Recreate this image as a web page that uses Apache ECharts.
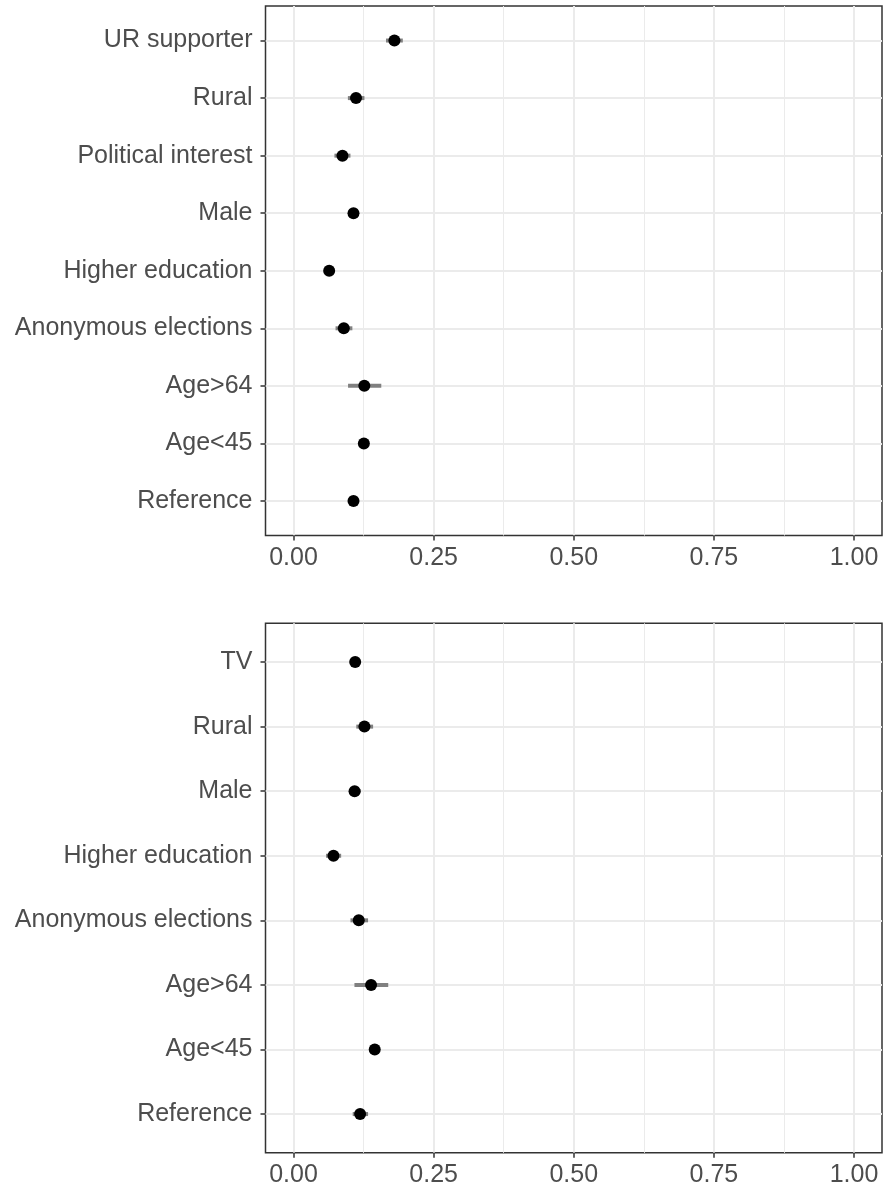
<!DOCTYPE html>
<html><head><meta charset="utf-8">
<script src="https://cdn.jsdelivr.net/npm/echarts@6/dist/echarts.min.js"></script>
<style>html,body{margin:0;padding:0;background:#fff}#c{width:883px;height:1189px}</style>
</head><body><div id="c"></div>
<script>
// Panel 1 (listed bottom to top)
const cats1 = ['Reference','Age<45','Age>64','Anonymous elections','Higher education','Male','Political interest','Rural','UR supporter'];
const est1 = [0.107, 0.1255, 0.1263, 0.0897, 0.0636, 0.107, 0.0873, 0.1115, 0.180];
const lo1  = [0.101, 0.119, 0.0973, 0.075, 0.058, 0.100, 0.073, 0.097, 0.165];
const hi1  = [0.113, 0.132, 0.1566, 0.105, 0.069, 0.114, 0.1016, 0.1265, 0.195];
// Panel 2 (listed bottom to top)
const cats2 = ['Reference','Age<45','Age>64','Anonymous elections','Higher education','Male','Rural','TV'];
const est2 = [0.1188, 0.1449, 0.1384, 0.1164, 0.0713, 0.109, 0.1265, 0.110];
const lo2  = [0.1056, 0.138, 0.1087, 0.1016, 0.058, 0.0986, 0.112, 0.104];
const hi2  = [0.133, 0.151, 0.169, 0.133, 0.085, 0.120, 0.142, 0.116];
// x axis ticks
const xTicks = [0, 0.25, 0.5, 0.75, 1];
const xMinor = [0.125, 0.375, 0.625, 0.875];

const FONT = 'Helvetica, "Liberation Sans", Arial, sans-serif';
const GRID = '#EBEBEB', INK = '#333333', LAB = '#4D4D4D';

function errRender(params, api) {
  const a = api.coord([api.value(0), api.value(2)]);
  const b = api.coord([api.value(1), api.value(2)]);
  return {type: 'line', shape: {x1: a[0], y1: a[1], x2: b[0], y2: b[1]},
          style: {stroke: '#808080', lineWidth: 4}};
}
function majorX(gi) {
  return {
    type: 'value', gridIndex: gi, min: -0.05, max: 1.05, position: 'bottom',
    axisLine: {show: false, onZero: false},
    axisTick: {show: true, length: 5, lineStyle: {color: INK, width: 1.5}, customValues: xTicks},
    axisLabel: {show: true, customValues: xTicks, formatter: v => v.toFixed(2),
                color: LAB, fontSize: 25, fontFamily: FONT, margin: 10},
    splitLine: {show: true, lineStyle: {color: GRID, width: 2}}
  };
}
function minorX(gi) {
  return {
    type: 'value', gridIndex: gi, min: -0.05, max: 1.05, position: 'top',
    axisLine: {show: false, onZero: false},
    axisTick: {show: false, customValues: xMinor},
    axisLabel: {show: false, customValues: xMinor},
    splitLine: {show: true, lineStyle: {color: GRID, width: 1}}
  };
}
function yAx(gi, cats) {
  const vals = cats.map((c, i) => i);
  return {
    type: 'value', gridIndex: gi, min: -0.6, max: cats.length - 1 + 0.6, position: 'left',
    axisLine: {show: false, onZero: false},
    axisTick: {show: true, length: 5, lineStyle: {color: INK, width: 1.5}, customValues: vals},
    axisLabel: {show: true, customValues: vals, formatter: v => cats[Math.round(v)],
                color: LAB, fontSize: 25, fontFamily: FONT, margin: 13},
    splitLine: {show: true, lineStyle: {color: GRID, width: 2}}
  };
}

const chart = echarts.init(document.getElementById('c'), null, {renderer: 'canvas'});
chart.setOption({
  animation: false,
  backgroundColor: '#ffffff',
  grid: [
    {left: 265.5, top: 6, width: 616.5, height: 529.5, show: true, borderColor: INK, borderWidth: 1.5, backgroundColor: 'transparent'},
    {left: 265.5, top: 623.3, width: 616.5, height: 529.5, show: true, borderColor: INK, borderWidth: 1.5, backgroundColor: 'transparent'}
  ],
  xAxis: [majorX(0), minorX(0), majorX(1), minorX(1)],
  yAxis: [yAx(0, cats1), yAx(1, cats2)],
  series: [
    {type: 'custom', xAxisIndex: 0, yAxisIndex: 0, renderItem: errRender,
     encode: {x: [0, 1], y: 2}, data: cats1.map((c, i) => [lo1[i], hi1[i], i]), z: 3},
    {type: 'scatter', xAxisIndex: 0, yAxisIndex: 0, symbol: 'circle', symbolSize: 12,
     itemStyle: {color: '#000000', opacity: 1}, data: cats1.map((c, i) => [est1[i], i]), z: 4},
    {type: 'custom', xAxisIndex: 2, yAxisIndex: 1, renderItem: errRender,
     encode: {x: [0, 1], y: 2}, data: cats2.map((c, i) => [lo2[i], hi2[i], i]), z: 3},
    {type: 'scatter', xAxisIndex: 2, yAxisIndex: 1, symbol: 'circle', symbolSize: 12,
     itemStyle: {color: '#000000', opacity: 1}, data: cats2.map((c, i) => [est2[i], i]), z: 4}
  ]
});
</script></body></html>
